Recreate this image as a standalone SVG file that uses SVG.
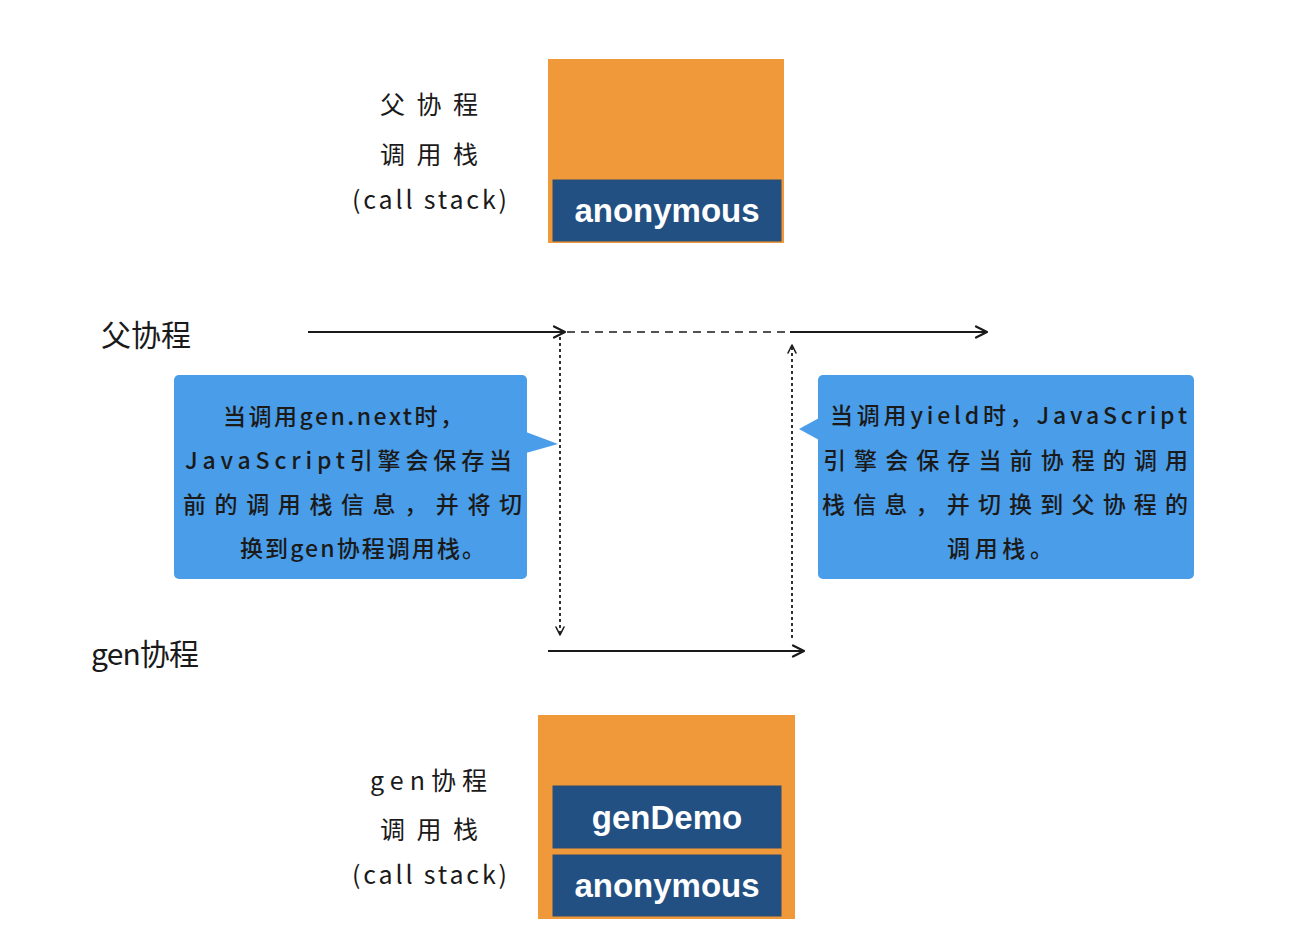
<svg xmlns="http://www.w3.org/2000/svg" width="1292" height="944" viewBox="0 0 1292 944">
<defs>
<marker id="arr" viewBox="0 0 14 14" refX="13" refY="7" markerWidth="14" markerHeight="14" markerUnits="userSpaceOnUse" orient="auto">
<path d="M2,1.5 L13,7 L2,12.5" fill="none" stroke="#1a1a1a" stroke-width="2.2" stroke-linecap="round" stroke-linejoin="round"/>
</marker>
<marker id="arrs" viewBox="0 0 10 10" refX="9" refY="5" markerWidth="10" markerHeight="10" markerUnits="userSpaceOnUse" orient="auto">
<path d="M1,1 L9,5 L1,9" fill="none" stroke="#1a1a1a" stroke-width="1.6" stroke-linecap="round" stroke-linejoin="round"/>
</marker>
</defs>
<style>
.orange{fill:#F0993A;}
.frame{fill:#235083;stroke:#2c4f73;stroke-width:1;}
.fname{font-family:"Liberation Sans",Arial,sans-serif;font-weight:bold;font-size:33px;fill:#ffffff;text-anchor:middle;}
.lbl{font-family:"Noto Sans CJK SC","Liberation Sans",sans-serif;font-size:25px;fill:#1a1a1a;}
.big{font-family:"Noto Sans CJK SC","Liberation Sans",sans-serif;font-size:30px;fill:#1a1a1a;}
.callout{fill:#4A9DE8;}
.ct{font-family:"Noto Sans CJK SC","Liberation Sans",sans-serif;font-size:23px;font-weight:500;fill:#1a1a1a;}
.solid{stroke:#1a1a1a;stroke-width:2.2;fill:none;}
.dash{stroke:#1a1a1a;stroke-width:1.6;fill:none;stroke-dasharray:8,6;}
.dot{stroke:#1a1a1a;stroke-width:1.8;fill:none;stroke-dasharray:3,3;}
</style>
<rect width="1292" height="944" fill="#ffffff"/>

<g id="parent-stack-label">
<text class="lbl" x="380" y="114" textLength="98" lengthAdjust="spacing">父协程</text>
<text class="lbl" x="380" y="164" textLength="98" lengthAdjust="spacing">调用栈</text>
<text class="lbl" x="352" y="209" textLength="155" lengthAdjust="spacing">(call stack)</text>
</g>
<g id="parent-stack">
<rect class="orange" x="548" y="59" width="236" height="184"/>
<rect class="frame" x="553" y="180" width="228" height="61"/>
<text class="fname" x="667" y="222">anonymous</text>
</g>

<g id="parent-label">
<text class="big" x="101" y="346" textLength="90" lengthAdjust="spacing">父协程</text>
</g>
<g id="gen-label">
<text class="big" x="91" y="665" textLength="108" lengthAdjust="spacing">gen协程</text>
</g>

<g id="connectors">
<line class="solid" x1="308" y1="332" x2="565" y2="332" marker-end="url(#arr)"/>
<line class="dash" x1="567" y1="332" x2="790" y2="332"/>
<line class="solid" x1="790" y1="332" x2="987" y2="332" marker-end="url(#arr)"/>
<line class="dot" x1="560" y1="337" x2="560" y2="635" marker-end="url(#arrs)"/>
<line class="dot" x1="792" y1="638" x2="792" y2="345" marker-end="url(#arrs)"/>
<line class="solid" x1="548" y1="651" x2="804" y2="651" marker-end="url(#arr)"/>
</g>

<g id="callout-left">
<rect class="callout" x="174" y="375" width="353" height="204" rx="5"/>
<polygon class="callout" points="526,432 558,444 526,453"/>
<text class="ct" x="223" y="425" textLength="240" lengthAdjust="spacing">当调用gen.next时，</text>
<text class="ct" x="185" y="469" textLength="327" lengthAdjust="spacing">JavaScript引擎会保存当</text>
<text class="ct" x="183" y="513" textLength="339" lengthAdjust="spacing">前的调用栈信息，并将切</text>
<text class="ct" x="240" y="557" textLength="245" lengthAdjust="spacing">换到gen协程调用栈。</text>
</g>

<g id="callout-right">
<rect class="callout" x="818" y="375" width="376" height="204" rx="5"/>
<polygon class="callout" points="819,418 799,429 819,440"/>
<text class="ct" x="830" y="424" textLength="357" lengthAdjust="spacing">当调用yield时，JavaScript</text>
<text class="ct" x="823" y="469" textLength="365" lengthAdjust="spacing">引擎会保存当前协程的调用</text>
<text class="ct" x="822" y="513" textLength="366" lengthAdjust="spacing">栈信息，并切换到父协程的</text>
<text class="ct" x="947" y="557" textLength="106" lengthAdjust="spacing">调用栈。</text>
</g>

<g id="gen-stack-label">
<text class="lbl" x="370" y="790" textLength="117" lengthAdjust="spacing">gen协程</text>
<text class="lbl" x="380" y="839" textLength="98" lengthAdjust="spacing">调用栈</text>
<text class="lbl" x="352" y="884" textLength="155" lengthAdjust="spacing">(call stack)</text>
</g>
<g id="gen-stack">
<rect class="orange" x="538" y="715" width="257" height="204"/>
<rect class="frame" x="553" y="786" width="228" height="62"/>
<text class="fname" x="667" y="829">genDemo</text>
<rect class="frame" x="553" y="855" width="228" height="61"/>
<text class="fname" x="667" y="897">anonymous</text>
</g>
</svg>
